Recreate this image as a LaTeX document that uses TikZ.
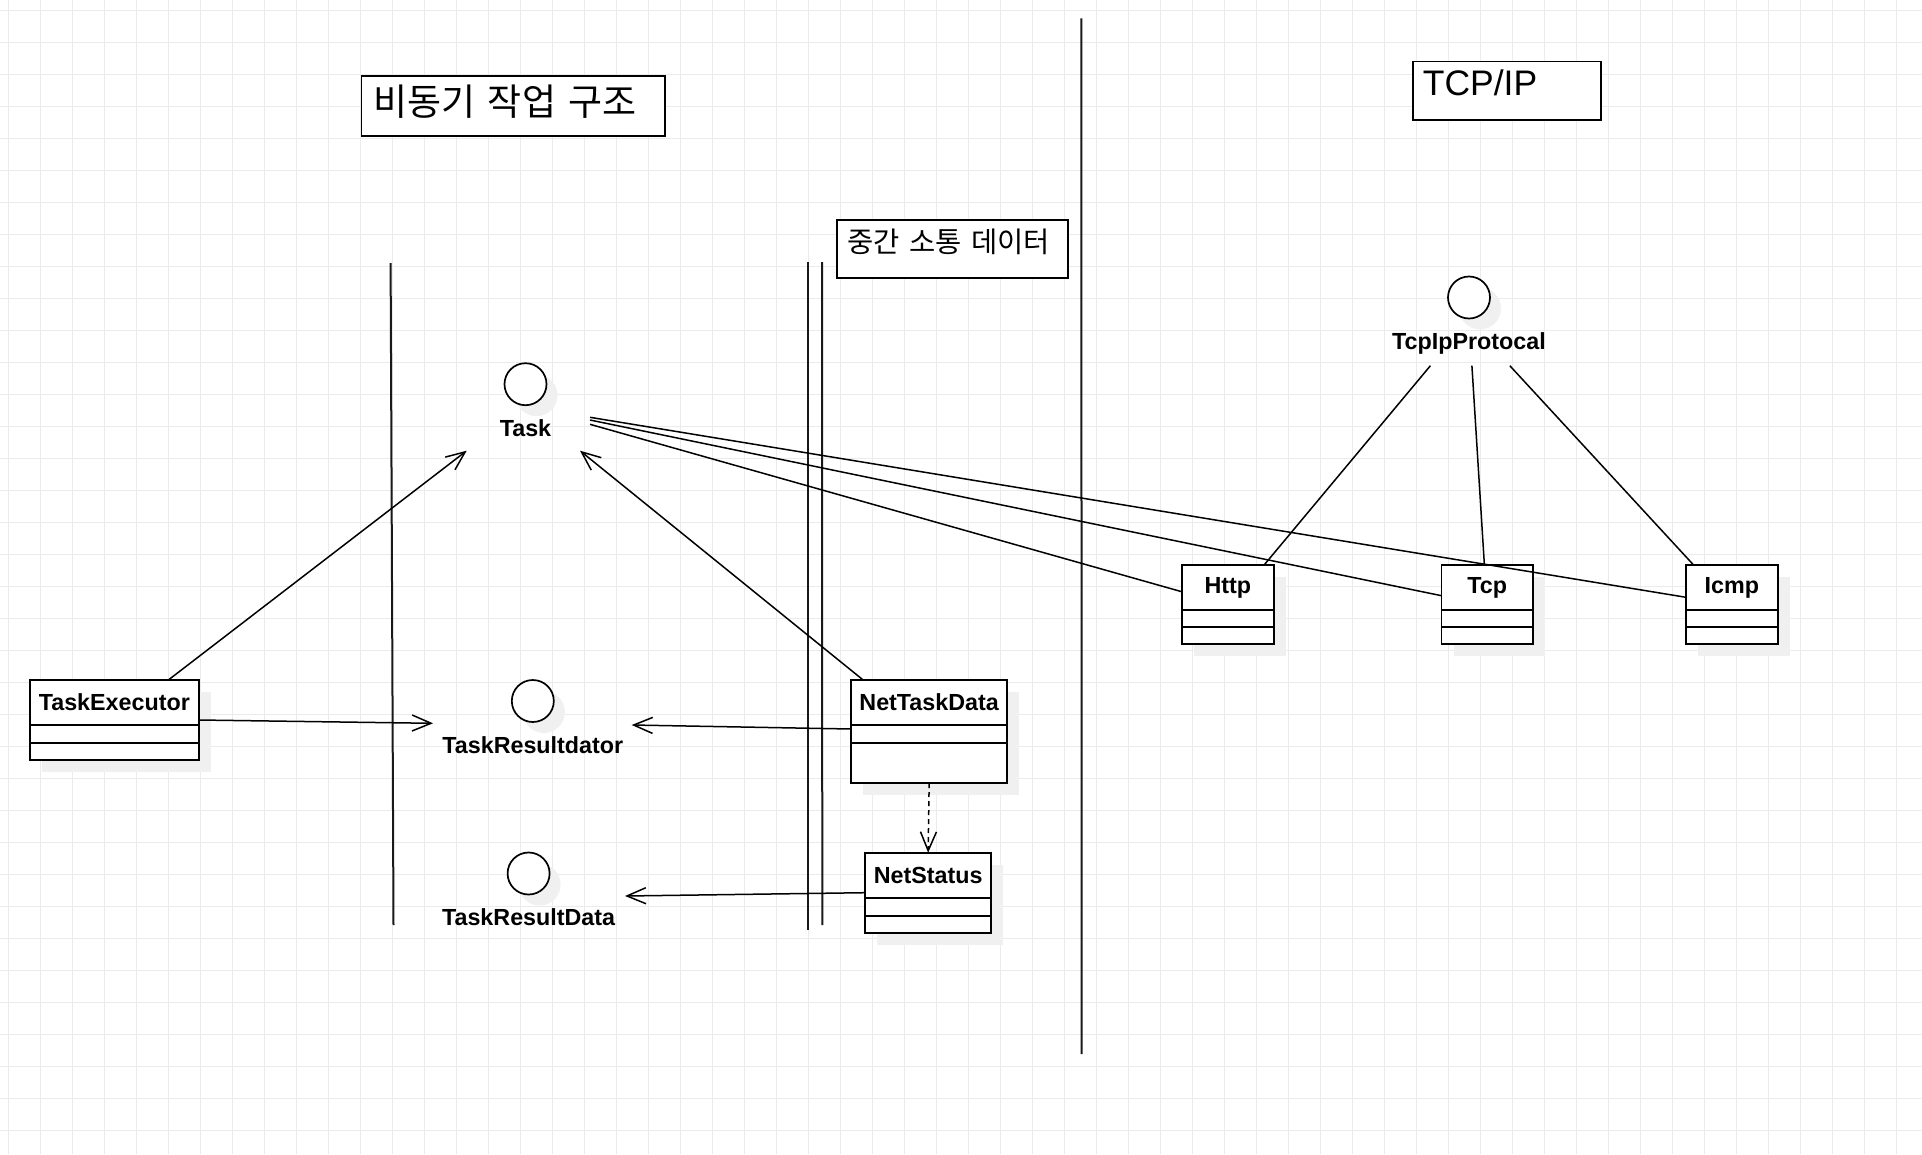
\documentclass[tikz,border=0pt]{standalone}
\usepackage{fontspec}
\setmainfont{Liberation Sans}
\newfontfamily\krfont{Noto Sans CJK KR}
\usepackage{tikz}
\usetikzlibrary{arrows.meta,positioning,calc,shadows}

\begin{document}
\begin{tikzpicture}[x=1pt,y=-1pt,
  gridline/.style={draw=black!8, line width=1pt},
  wall/.style={draw=black!90, line width=2pt},
  conn/.style={draw=black, line width=1.5pt},
  openarrow/.style={-{Straight Barb[length=19pt,width=16pt]}},
  softshadow/.style={drop shadow={shadow xshift=12pt, shadow yshift=-12pt, fill=black!6, opacity=1}},
  clspart/.style={rectangle, draw, fill=white, line width=1.7pt, outer sep=0pt, inner sep=0pt, softshadow},
  clshead/.style={clspart, minimum height=45pt, font=\fontsize{23.3}{27}\selectfont\bfseries},
  iface/.style={circle, draw, fill=white, line width=1.7pt, minimum size=42pt, inner sep=0pt,
    drop shadow={shadow xshift=11pt, shadow yshift=-11pt, fill=black!6, opacity=1}},
  ifacelabel/.style={inner sep=0pt, font=\fontsize{23.3}{27}\selectfont\bfseries},
  titlebox/.style={rectangle, draw, fill=white, line width=1.7pt, anchor=north west, inner ysep=0pt, align=left}]

\useasboundingbox (0,0) rectangle (1922,1154);
\fill[white] (0,0) rectangle (1922,1154);
\foreach \gx in {8,40,...,1922} \draw[gridline] (\gx,0) -- (\gx,1154);
\foreach \gy in {10.3,42.3,...,1154} \draw[gridline] (0,\gy) -- (1922,\gy);

\draw[wall] (390.6,263) -- (393.5,925);
\draw[wall] (807.7,262) -- (807.7,930);
\draw[wall] (822,262) -- (822.3,925);
\draw[wall] (1081.3,18.3) -- (1081.7,1054);

\node at (360.7,75) [titlebox, inner xsep=12pt, text width=279.6pt, text height=40pt, text depth=20pt, font=\krfont\fontsize{37}{42}\selectfont] (asyncT) {비동기 작업 구조};
\node at (836,219.3) [titlebox, inner xsep=10.7pt, text width=209.9pt, text height=32.7pt, text depth=25.3pt, font=\krfont\fontsize{28.5}{32}\selectfont] (dataT) {중간 소통 데이터};
\node at (1412.3,60.7) [titlebox, inner xsep=9.7pt, text width=168.6pt, text height=34pt, text depth=24.3pt, font=\fontsize{35.5}{40}\selectfont] (tcpT) {TCP/IP};

\node at (525.5,384.2) [iface] (task) {};
\node[ifacelabel] (taskL) [below=13pt of task] {Task};
\node at (532.8,701) [iface] (res) {};
\node[ifacelabel] (resL) [below=14pt of res] {TaskResultdator};
\node at (528.6,873.5) [iface] (resdata) {};
\node[ifacelabel] (resdataL) [below=13pt of resdata] {TaskResultData};
\node at (1469,297.5) [iface] (proto) {};
\node[ifacelabel] (protoL) [below=13pt of proto] {TcpIpProtocal};

\node at (114.35,702.5) [clshead, minimum width=168.7pt] (TE) {TaskExecutor};
\node[clspart, minimum width=168.7pt, minimum height=18pt] (TEattr) [below=0pt of TE] {};
\node[clspart, minimum width=168.7pt, minimum height=17pt] (TEops) [below=0pt of TEattr] {};

\node at (929.15,702.5) [clshead, minimum width=156.3pt] (NTD) {NetTaskData};
\node[clspart, minimum width=156.3pt, minimum height=18pt] (NTDattr) [below=0pt of NTD] {};
\node[clspart, minimum width=156.3pt, minimum height=40pt] (NTDops) [below=0pt of NTDattr] {};

\node at (928.15,875.2) [clshead, minimum width=126.3pt] (NS) {NetStatus};
\node[clspart, minimum width=126.3pt, minimum height=18pt] (NSattr) [below=0pt of NS] {};
\node[clspart, minimum width=126.3pt, minimum height=17pt] (NSops) [below=0pt of NSattr] {};

\node at (1227.85,587.8) [clshead, minimum width=92.3pt] (HTTP) {Http};
\node[clspart, minimum width=92.3pt, minimum height=17pt] (HTTPattr) [below=0pt of HTTP] {};
\node[clspart, minimum width=92.3pt, minimum height=17pt] (HTTPops) [below=0pt of HTTPattr] {};
\node[clshead, minimum width=91.5pt] (TCP) [right=167.5pt of HTTP] {Tcp};
\node[clspart, minimum width=91.5pt, minimum height=17pt] (TCPattr) [below=0pt of TCP] {};
\node[clspart, minimum width=91.5pt, minimum height=17pt] (TCPops) [below=0pt of TCPattr] {};
\node[clshead, minimum width=91.7pt] (ICMP) [right=153pt of TCP] {Icmp};
\node[clspart, minimum width=91.7pt, minimum height=17pt] (ICMPattr) [below=0pt of ICMP] {};
\node[clspart, minimum width=91.7pt, minimum height=17pt] (ICMPops) [below=0pt of ICMPattr] {};

\coordinate (taskInL) at ($(task)+(-58.8,66.5)$);
\coordinate (taskInR) at ($(task)+(54.5,66.5)$);
\coordinate (taskOut1) at ($(task)+(64.5,33.1)$);
\coordinate (taskOut2) at ($(task)+(64.5,35.8)$);
\coordinate (taskOut3) at ($(task)+(64.5,40.1)$);
\coordinate (resInL) at ($(res)+(-99.8,22.3)$);
\coordinate (resInR) at ($(res)+(98.9,24)$);
\coordinate (resdataIn) at ($(resdata)+(96.4,22.5)$);
\coordinate (protoOut1) at ($(proto)+(-38.6,68.2)$);
\coordinate (protoOut2) at ($(proto)+(2.9,68.2)$);
\coordinate (protoOut3) at ($(proto)+(40.8,68.2)$);

\draw[conn, openarrow] ([xshift=54pt]TE.north) -- (taskInL);
\draw[conn, openarrow] ([xshift=-66pt]NTD.north) -- (taskInR);
\draw[conn, openarrow] ([yshift=-17.5pt]TE.east) -- (resInL);
\draw[conn, openarrow] ([yshift=-4pt]NTD.south west) -- (resInR);
\draw[conn, openarrow] ([yshift=-17.5pt]NS.west) -- (resdataIn);
\draw[conn, openarrow, dash pattern=on 5pt off 4pt] (NTDops.south) -- (NS.north);

\draw[conn] (taskOut3) -- ([yshift=-3.9pt]HTTP.west);
\draw[conn] (taskOut2) -- ([yshift=-7.9pt]TCP.west);
\draw[conn] (taskOut1) -- ([yshift=-9.5pt]ICMP.west);
\draw[conn] (protoOut1) -- ([xshift=36pt]HTTP.north);
\draw[conn] (protoOut2) -- ([xshift=-2.85pt]TCP.north);
\draw[conn] (protoOut3) -- ([xshift=-38pt]ICMP.north);

\end{tikzpicture}
\end{document}
